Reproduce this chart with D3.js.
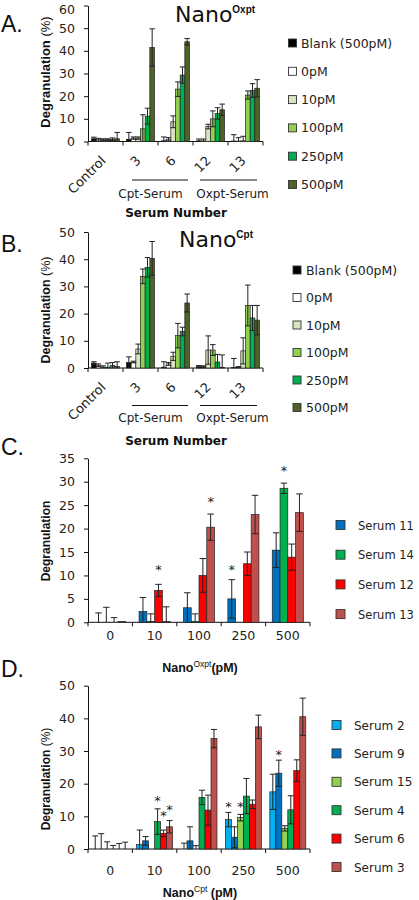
<!DOCTYPE html>
<html><head><meta charset="utf-8">
<script src="https://cdn.jsdelivr.net/npm/d3@7"></script>
<style>body{margin:0;background:#fff}svg{display:block}</style>
</head><body>
<svg id="c" width="419" height="900"></svg>
<script>
// ---------- Panels A & B ----------
const catsAB = ["Control", "3", "6", "12", "13"];
const seriesAB = ["Blank (500pM)", "0pM", "10pM", "100pM", "250pM", "500pM"];
const colorsAB = ["#000000", "#ffffff", "#d7e4bd", "#92d050", "#00b050", "#4f6228"];
const ticksA = [0, 10, 20, 30, 40, 50, 60];
const ticksB = [0, 10, 20, 30, 40, 50];

const valuesA = [
  [1.2, 1.0, 0.3, 0.3, 0.2],
  [0.8, 1.5, 1.0, 0.3, 0.2],
  [0.8, 1.5, 8.7, 6.6, 0.3],
  [0.8, 5.6, 23.1, 10.0, 20.5],
  [1.0, 11.2, 29.3, 12.4, 22.5],
  [1.2, 41.5, 44.0, 14.0, 23.5]
];
const errorsA = [
  [0.7, 3.0, 1.7, 0.8, 2.8],
  [0.6, 0.5, 0.7, 0.8, 1.5],
  [0.4, 0.5, 2.6, 1.0, 2.0],
  [0.4, 6.2, 3.2, 3.5, 1.8],
  [0.6, 3.5, 3.6, 2.5, 3.0],
  [2.8, 8.2, 1.4, 2.5, 3.8]
];
const valuesB = [
  [1.8, 2.0, 0.3, 0.5, 0.2],
  [1.0, 2.2, 1.5, 0.5, 0.2],
  [0.3, 7.0, 4.3, 6.6, 6.3],
  [0.3, 33.7, 11.9, 6.6, 23.0],
  [1.0, 37.0, 13.4, 2.2, 18.4],
  [0.5, 40.3, 23.9, 0.2, 17.6]
];
const errorsB = [
  [0.5, 2.1, 2.0, 0.4, 3.3],
  [0.5, 0.3, 0.5, 0.3, 0.3],
  [0.5, 1.8, 1.5, 5.2, 4.8],
  [1.5, 2.7, 4.5, 2.0, 7.5],
  [1.0, 3.6, 1.6, 2.8, 4.6],
  [1.8, 6.2, 3.3, 4.6, 5.4]
];

// ---------- Panel C ----------
const catsCD = ["0", "10", "100", "250", "500"];
const seriesC = ["Serum 11", "Serum 14", "Serum 12", "Serum 13"];
const colorsC = ["#0070c0", "#00b050", "#ff0000", "#c0504d"];
const ticksC = [0, 5, 10, 15, 20, 25, 30, 35];
const valuesC = [
  [0, 2.3, 3.1, 5.0, 15.4],
  [0, 0.2, 0.2, 0, 28.6],
  [0, 6.8, 10.0, 12.5, 13.9],
  [0.2, 0.2, 20.3, 23.0, 23.4]
];
const errorsC = [
  [2.0, 3.0, 3.2, 4.1, 3.7],
  [3.2, 1.6, 1.6, 0, 1.1],
  [1.0, 1.3, 3.6, 2.5, 2.8],
  [0, 3.1, 2.8, 4.1, 4.0]
];
const starsC = [
  {cat: "10", series: "Serum 12", level: 11.8},
  {cat: "100", series: "Serum 13", level: 26.3},
  {cat: "250", series: "Serum 11", level: 11.8},
  {cat: "500", series: "Serum 14", level: 32.9}
];

// ---------- Panel D ----------
const seriesD = ["Serum 2", "Serum 9", "Serum 15", "Serum 4", "Serum 6", "Serum 3"];
const colorsD = ["#00b0f0", "#0070c0", "#92d050", "#00b050", "#ff0000", "#c0504d"];
const ticksD = [0, 10, 20, 30, 40, 50];
const valuesD = [
  [0, 1.4, 0, 9.0, 17.5],
  [0, 2.5, 2.5, 3.6, 23.2],
  [0, 0, 0, 9.6, 6.3],
  [0, 8.4, 15.8, 16.2, 12.0],
  [0, 4.8, 11.9, 13.7, 24.0],
  [0, 6.8, 33.8, 37.4, 40.5]
];
const errorsD = [
  [4.0, 4.4, 1.8, 2.2, 5.4],
  [4.7, 1.3, 4.3, 3.2, 4.0],
  [2.2, 0, 1.0, 1.0, 0.8],
  [1.1, 3.9, 2.2, 5.4, 4.3],
  [1.7, 1.0, 4.6, 1.3, 3.3],
  [2.1, 1.9, 2.8, 3.6, 5.7]
];
const starsD = [
  {cat: "10", series: "Serum 4", level: 15.6},
  {cat: "10", series: "Serum 6", level: 11.0},
  {cat: "10", series: "Serum 3", level: 12.9},
  {cat: "250", series: "Serum 2", level: 13.8},
  {cat: "250", series: "Serum 15", level: 13.8},
  {cat: "500", series: "Serum 9", level: 29.7}
];

const svg = d3.select("#c");
const FONT = "DejaVu Sans";
const TFONT = "Liberation Sans";

function drawPanel(p) {
  const g = svg.append("g");
  const x0 = d3.scaleBand().domain(p.cats).range(p.xRange);
  const bw = x0.bandwidth();
  const x1 = d3.scaleBand().domain(p.series)
    .range([bw * (1 - p.groupFrac) / 2, bw * (1 + p.groupFrac) / 2]);
  const y = d3.scaleLinear().domain(p.yDomain).range(p.yRange);

  const ya = g.append("g").attr("transform", `translate(${p.xRange[0]},0)`)
    .call(d3.axisLeft(y).tickValues(p.yTicks).tickSize(4).tickSizeOuter(0).tickPadding(9));
  ya.select(".domain").attr("stroke", "#111");
  ya.selectAll(".tick line").attr("stroke", "#111");
  ya.selectAll("text").attr("font-family", FONT).attr("font-size", 12.5).attr("fill", "#222");
  if (p.topNudge) ya.selectAll(".tick").filter(d => d === p.yDomain[1]).select("text").attr("dy", p.topNudge);

  const y0 = y(0);
  g.append("line").attr("x1", p.xRange[0]).attr("x2", p.xRange[1])
    .attr("y1", y0).attr("y2", y0).attr("stroke", "#111");
  const bounds = p.cats.map(c => x0(c)).concat([p.xRange[1]]);
  g.selectAll("line.xt").data(bounds).enter().append("line")
    .attr("x1", d => d).attr("x2", d => d).attr("y1", y0).attr("y2", y0 + 4)
    .attr("stroke", "#111");

  const flat = [];
  p.series.forEach((s, i) => p.cats.forEach((c, j) => flat.push({
    s, c, v: p.values[i][j], e: p.errors[i][j], col: p.colors[i]
  })));

  g.selectAll("rect.bar").data(flat).enter().append("rect")
    .attr("x", d => x0(d.c) + x1(d.s))
    .attr("width", x1.bandwidth())
    .attr("y", d => y(d.v))
    .attr("height", d => y0 - y(d.v))
    .attr("fill", d => d.col)
    .attr("stroke", "#222").attr("stroke-width", 0.7);

  const cw = p.capW;
  const eg = g.append("g").attr("stroke", "#222").attr("stroke-width", 1);
  flat.filter(d => d.e > 0).forEach(d => {
    const cx = x0(d.c) + x1(d.s) + x1.bandwidth() / 2;
    const top = d.v + d.e, bot = Math.max(0, d.v - d.e);
    eg.append("line").attr("x1", cx).attr("x2", cx).attr("y1", y(bot)).attr("y2", y(top));
    eg.append("line").attr("x1", cx - cw / 2).attr("x2", cx + cw / 2).attr("y1", y(top)).attr("y2", y(top));
    if (d.v - d.e > 0)
      eg.append("line").attr("x1", cx - cw / 2).attr("x2", cx + cw / 2).attr("y1", y(bot)).attr("y2", y(bot));
  });

  if (p.stars) {
    g.selectAll("text.star").data(p.stars).enter().append("text")
      .attr("x", d => x0(d.cat) + x1(d.series) + x1.bandwidth() / 2)
      .attr("y", d => y(d.level) + 7)
      .attr("text-anchor", "middle").attr("font-family", FONT).attr("font-size", 13)
      .attr("fill", "#222").text("*");
  }
  return {x0, y, g, bw};
}

function yTitle(x, yc, size, main, extra) {
  const t = svg.append("text").attr("transform", `translate(${x},${yc}) rotate(-90)`)
    .attr("text-anchor", "middle").attr("font-family", TFONT).attr("font-size", size).attr("fill", "#111");
  t.append("tspan").attr("font-weight", "bold").text(main);
  if (extra) t.append("tspan").text(extra);
}

function legend(xs, ys, step, names, colors, tx, size, fs) {
  const lg = svg.append("g");
  names.forEach((n, i) => {
    const yy = ys + i * step;
    lg.append("rect").attr("x", xs).attr("y", yy - size / 2).attr("width", size).attr("height", size)
      .attr("fill", colors[i]).attr("stroke", "#333").attr("stroke-width", 0.9);
    lg.append("text").attr("x", tx).attr("y", yy + 4.5).attr("font-family", FONT)
      .attr("font-size", fs).attr("fill", "#222").text(n);
  });
}

function panelLetter(txt, y) {
  svg.append("text").attr("x", 1).attr("y", y).attr("font-family", TFONT).attr("font-size", 23)
    .attr("fill", "#111").text(txt);
}

function titleSup(x, y, main, sup) {
  const t = svg.append("text").attr("x", x).attr("y", y).attr("fill", "#111");
  t.append("tspan").attr("font-family", FONT).attr("font-size", 22).text(main);
  t.append("tspan").attr("font-family", TFONT).attr("font-weight", "bold").attr("font-size", 10)
    .attr("dy", -9).text(sup);
}

function abExtras(r, lineY, textY, titleY) {
  const {x0, y, bw} = r;
  const y0 = y(0);
  catsAB.forEach(c => {
    svg.append("text").attr("transform", `translate(${x0(c) + bw / 2 + 1},${y0 + 20}) rotate(-45)`)
      .attr("text-anchor", "end").attr("font-family", FONT).attr("font-size", 13).attr("fill", "#222").text(c);
  });
  const groups = [
    {name: "Cpt-Serum", a: "3", b: "6", tx: 10 + x0("3") + bw / 2},
    {name: "Oxpt-Serum", a: "12", b: "13", tx: 22 + x0("12") + bw / 2}
  ];
  groups.forEach((gr, i) => {
    svg.append("line").attr("x1", x0(gr.a) + (i ? 7 : 9)).attr("x2", x0(gr.b) + bw - (i ? 6 : 5))
      .attr("y1", y0 + lineY).attr("y2", y0 + lineY).attr("stroke", "#111");
    svg.append("text").attr("x", gr.tx).attr("y", y0 + textY).attr("text-anchor", "middle")
      .attr("font-family", FONT).attr("font-size", 12).attr("fill", "#222").text(gr.name);
  });
  svg.append("text").attr("x", 176).attr("y", y0 + titleY).attr("text-anchor", "middle")
    .attr("font-family", FONT).attr("font-weight", "bold").attr("font-size", 12).attr("fill", "#111")
    .text("Serum Number");
}

// Panel A
const rA = drawPanel({cats: catsAB, series: seriesAB, colors: colorsAB, values: valuesA, errors: errorsA,
  xRange: [88, 263], yDomain: [0, 60], yRange: [141.5, 5.5], yTicks: ticksA, groupFrac: 0.8, capW: 5.5,
  topNudge: "0.62em"});
abExtras(rA, 38.5, 56, 75);
panelLetter("A.", 32);
titleSup(175, 22, "Nano", "Oxpt");
yTitle(50, 72, 13, "Degranulation", " (%)");
legend(288.5, 43, 28.3, seriesAB, colorsAB, 301, 8, 12.5);

// Panel B
const rB = drawPanel({cats: catsAB, series: seriesAB, colors: colorsAB, values: valuesB, errors: errorsB,
  xRange: [88, 263], yDomain: [0, 50], yRange: [368, 232], yTicks: ticksB, groupFrac: 0.8, capW: 5.5});
abExtras(rB, 37.5, 54, 77);
panelLetter("B.", 252);
titleSup(179, 247, "Nano", "Cpt");
yTitle(50, 310, 12.5, "Degranulation", " (%)");
legend(293, 270, 27.5, seriesAB, colorsAB, 306, 8, 12.5);

// Panels C & D extras
function cdExtras(r, labelY, titleY, sup, gap) {
  const {x0, y, bw} = r;
  catsCD.forEach(c => {
    svg.append("text").attr("x", x0(c) + bw / 2).attr("y", y(0) + labelY).attr("text-anchor", "middle")
      .attr("font-family", FONT).attr("font-size", 12.5).attr("fill", "#222").text(c);
  });
  const t = svg.append("text").attr("x", 200).attr("y", y(0) + titleY).attr("text-anchor", "middle")
    .attr("font-family", TFONT).attr("fill", "#111");
  t.append("tspan").attr("font-weight", "bold").attr("font-size", 12.5).text("Nano");
  t.append("tspan").attr("font-size", 8.5).attr("dy", -5).text(sup);
  t.append("tspan").attr("font-weight", "bold").attr("font-size", 12.5).attr("dy", 5).text(gap + "(pM)");
}

// Panel C
const rC = drawPanel({cats: catsCD, series: seriesC, colors: colorsC, values: valuesC, errors: errorsC,
  xRange: [88, 310], yDomain: [0, 35], yRange: [622.3, 458.3], yTicks: ticksC, groupFrac: 0.7, capW: 6.5,
  stars: starsC});
cdExtras(rC, 18, 50, "Oxpt", "");
panelLetter("C.", 455);
yTitle(50, 541, 12, "Degranulation", null);
legend(336, 525, 29.7, seriesC, colorsC, 358, 9, 11.5);

// Panel D
const rD = drawPanel({cats: catsCD, series: seriesD, colors: colorsD, values: valuesD, errors: errorsD,
  xRange: [88, 310], yDomain: [0, 50], yRange: [849, 685.7], yTicks: ticksD, groupFrac: 0.81, capW: 6,
  stars: starsD});
cdExtras(rD, 26, 48, "Cpt", " ");
panelLetter("D.", 677);
yTitle(50, 779, 12, "Degranulation", " (%)");
legend(332, 725, 28.4, seriesD, colorsD, 354, 9, 12);
</script>
</body></html>
